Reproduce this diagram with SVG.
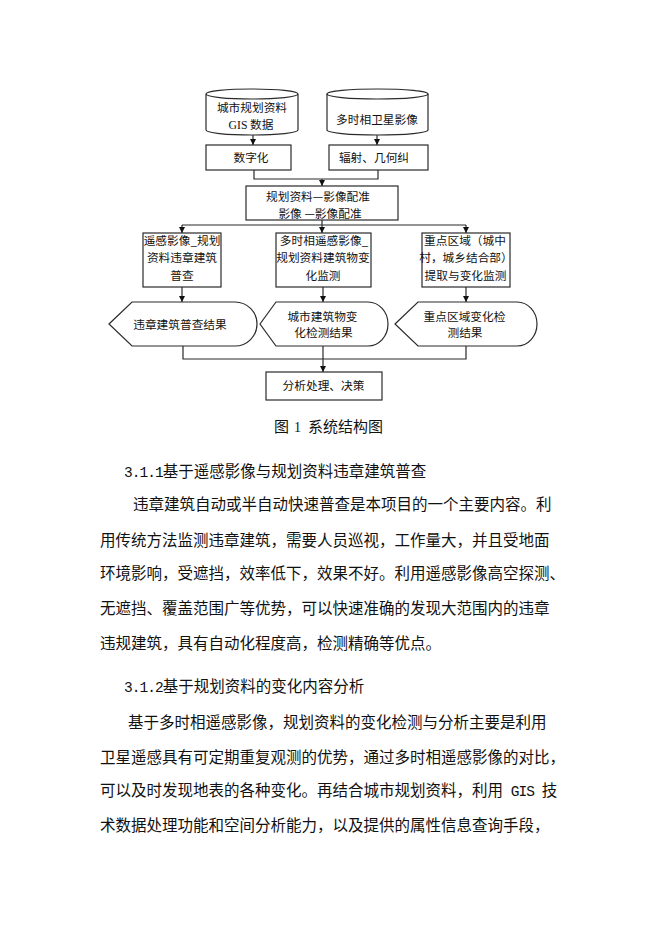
<svg xmlns="http://www.w3.org/2000/svg" width="662" height="936" viewBox="0 0 662 936">
<style>
.s{fill:#fff;stroke:#2a2a2a;stroke-width:1.2}
.c{fill:none;stroke:#2a2a2a;stroke-width:1.2}
.t{font-family:"Noto Sans CJK SC","Noto Sans",sans-serif;font-size:11.7px;fill:#111;text-anchor:middle}
.b{font-family:"Noto Sans CJK SC","Noto Sans",sans-serif;font-size:15.5px;fill:#111}
.m{font-family:"Liberation Mono",monospace;font-size:14.5px;letter-spacing:-0.95px}
</style>
<defs>
<marker id="ah" markerUnits="userSpaceOnUse" markerWidth="7" markerHeight="7" refX="6" refY="3" orient="auto">
<path d="M0,0 L6,3 L0,6 z" fill="#111"/>
</marker>
</defs>
<rect width="662" height="936" fill="#fff"/>

<g id="connectors">
<path class="c" d="M253,135 V145" marker-end="url(#ah)"/>
<path class="c" d="M377,135 V145" marker-end="url(#ah)"/>
<path class="c" d="M254,170 V179 H378 V170"/>
<path class="c" d="M322,179 V186" marker-end="url(#ah)"/>
<path class="c" d="M322,220 V225 M182,225 H466"/>
<path class="c" d="M182,225 V233" marker-end="url(#ah)"/>
<path class="c" d="M322,225 V233" marker-end="url(#ah)"/>
<path class="c" d="M466,225 V233" marker-end="url(#ah)"/>
<path class="c" d="M182,287 V302" marker-end="url(#ah)"/>
<path class="c" d="M323,287 V302" marker-end="url(#ah)"/>
<path class="c" d="M466,287 V302" marker-end="url(#ah)"/>
<path class="c" d="M183,346 V359 H466 V346"/>
<path class="c" d="M323,346 V372" marker-end="url(#ah)"/>
</g>

<g id="cyl1">
<path class="s" d="M206,94 V130 A46 5 0 0 0 298 130 V94"/>
<ellipse class="s" cx="252" cy="94" rx="46" ry="5"/>
<text class="t" x="252" y="112">城市规划资料</text>
<text class="t" x="251" y="129"><tspan font-family="Liberation Serif">GIS</tspan> 数据</text>
</g>
<g id="cyl2">
<path class="s" d="M327,94 V130 A50.5 5 0 0 0 428 130 V94"/>
<ellipse class="s" cx="377.5" cy="94" rx="50.5" ry="5"/>
<text class="t" x="377" y="124">多时相卫星影像</text>
</g>
<g id="digitize">
<rect class="s" x="206" y="145" width="85" height="25"/>
<text class="t" x="251" y="162">数字化</text>
</g>
<g id="correct">
<rect class="s" x="329" y="145" width="99" height="25"/>
<text class="t" x="374" y="162">辐射、几何纠</text>
</g>
<g id="register">
<rect class="s" x="246" y="186" width="152" height="34"/>
<text class="t" x="318" y="201">规划资料—影像配准</text>
<text class="t" x="320" y="218">影像 —影像配准</text>
</g>
<g id="box1">
<rect class="s" x="143" y="233" width="78" height="54"/>
<text class="t" x="182" y="244.5">遥感影像_规划</text>
<text class="t" x="182" y="261.5">资料违章建筑</text>
<text class="t" x="182" y="279.5">普查</text>
</g>
<g id="box2">
<rect class="s" x="276" y="233" width="95" height="54"/>
<text class="t" x="324" y="244.5">多时相遥感影像_</text>
<text class="t" x="323" y="261.5">规划资料建筑物变</text>
<text class="t" x="323" y="279.5">化监测</text>
</g>
<g id="box3">
<rect class="s" x="422" y="233" width="88" height="54"/>
<text class="t" x="465" y="244.5">重点区域（城中</text>
<text class="t" x="466" y="261.5">村，城乡结合部）</text>
<text class="t" x="465.5" y="279.5">提取与变化监测</text>
</g>
<g id="hex1">
<path class="s" d="M109,324 L132,302 H235 A22 22 0 0 1 235 346 H132 Z"/>
<text class="t" x="180" y="328.5">违章建筑普查结果</text>
</g>
<g id="hex2">
<path class="s" d="M260,324 L276,302 H368 A20 22 0 0 1 368 346 H276 Z"/>
<text class="t" x="322.5" y="320.5">城市建筑物变</text>
<text class="t" x="323.5" y="336.5">化检测结果</text>
</g>
<g id="hex3">
<path class="s" d="M395,324 L418,302 H517 A20 22 0 0 1 517 346 H418 Z"/>
<text class="t" x="464.5" y="320.5">重点区域变化检</text>
<text class="t" x="465" y="336.5">测结果</text>
</g>
<g id="decide">
<rect class="s" x="266" y="372" width="116" height="28"/>
<text class="t" x="323.5" y="389.5">分析处理、决策</text>
</g>

<text font-family="Noto Sans CJK SC,sans-serif" font-size="15" fill="#111" y="432"><tspan x="274">图</tspan><tspan x="294" font-family="Liberation Serif" font-size="14">1</tspan><tspan x="308">系统结构图</tspan></text>

<text class="b" x="124" y="477"><tspan class="m">3.1.1</tspan>基于遥感影像与规划资料违章建筑普查</text>
<text class="b" x="133" y="510">违章建筑自动或半自动快速普查是本项目的一个主要内容。利</text>
<text class="b" x="100" y="546">用传统方法监测违章建筑，需要人员巡视，工作量大，并且受地面</text>
<text class="b" x="100" y="579">环境影响，受遮挡，效率低下，效果不好。利用遥感影像高空探测、</text>
<text class="b" x="100" y="614">无遮挡、覆盖范围广等优势，可以快速准确的发现大范围内的违章</text>
<text class="b" x="100" y="649">违规建筑，具有自动化程度高，检测精确等优点。</text>
<text class="b" x="124" y="692"><tspan class="m">3.1.2</tspan>基于规划资料的变化内容分析</text>
<text class="b" x="128" y="728">基于多时相遥感影像，规划资料的变化检测与分析主要是利用</text>
<text class="b" x="100" y="763">卫星遥感具有可定期重复观测的优势，通过多时相遥感影像的对比，</text>
<text class="b" x="100" y="796">可以及时发现地表的各种变化。再结合城市规划资料，利用<tspan class="m"> GIS </tspan>技</text>
<text class="b" x="100" y="831">术数据处理功能和空间分析能力，以及提供的属性信息查询手段，</text>
</svg>
